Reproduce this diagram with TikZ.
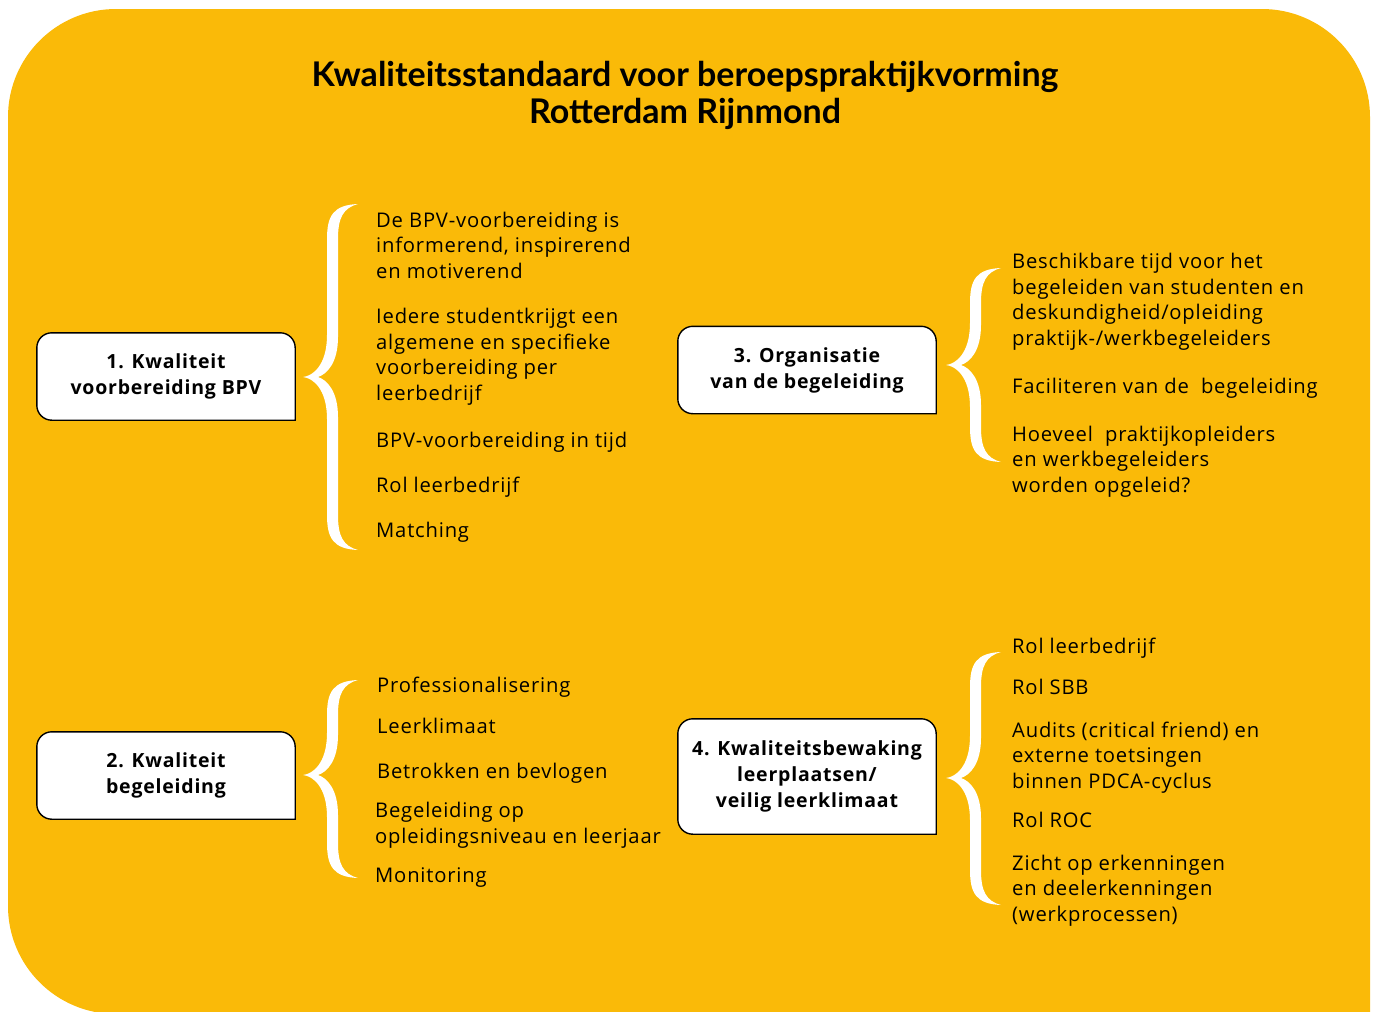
\documentclass[tikz,border=0pt]{standalone}
\usepackage{fontspec}
\setmainfont{Open Sans}[LetterSpace=4]
\newfontfamily\kopletter{Lato}
\usetikzlibrary{positioning,backgrounds}
\definecolor{bpvgeel}{RGB}{250,186,8}
\newcommand\tekstfont{\fontsize{20.2}{25.5}\selectfont}
\newcommand\kopfont{\kopletter\fontsize{34}{37}\selectfont\bfseries}
\tikzstyle{kader}=[
	rectangle,
	align=center,
	font=\fontsize{19.5}{26}\selectfont\bfseries,
	minimum width=258pt,
	minimum height=87pt,
	inner sep=0pt
]
\tikzstyle{punt}=[
	anchor=base west,
	align=left,
	font=\tekstfont,
	inner sep=0pt
]
\tikzstyle{rand}=[
	fill=white,
	draw=black,
	line width=1.4pt
]
% accolade: punt x, boven y, punt y, onder y
\newcommand\accolade[4]{%
\fill[white] ({#1+55},#2) .. controls ({#1+30},{#2+1}) and ({#1+24},{#2+12}) .. ({#1+24},{#2+35})
	-- ({#1+24},{#3-42}) .. controls ({#1+24},{#3-12}) and ({#1+10},{#3-1}) .. (#1,#3)
	.. controls ({#1+10},{#3+1}) and ({#1+24},{#3+12}) .. ({#1+24},{#3+42})
	-- ({#1+24},{#4-35}) .. controls ({#1+24},{#4-12}) and ({#1+30},{#4-1}) .. ({#1+55},#4)
	.. controls ({#1+40},{#4-4}) and ({#1+35},{#4-14}) .. ({#1+35},{#4-35})
	-- ({#1+35},{#3+40}) .. controls ({#1+35},{#3+14}) and ({#1+24},{#3+3}) .. ({#1+15},#3)
	.. controls ({#1+24},{#3-3}) and ({#1+35},{#3-14}) .. ({#1+35},{#3-40})
	-- ({#1+35},{#2+35}) .. controls ({#1+35},{#2+14}) and ({#1+40},{#2+4}) .. ({#1+55},#2) -- cycle;}
\newcommand\kaderrand[1]{%
\filldraw[rand] (#1.south) -- (#1.south east) -- (#1.east) [rounded corners=15pt]
	-- (#1.north east) -- (#1.north west) -- (#1.south west) -- cycle;}

\begin{document}
\begin{tikzpicture}[x=1pt,y=-1pt]
\useasboundingbox (0,0) rectangle (1377,1012);
\begin{scope}[on background layer]
\fill[bpvgeel] (700,1014) -- (1370,1014) -- (1370,500) [rounded corners=108pt]
	-- (1370,9) -- (8,9) -- (8,1014) -- cycle;
\end{scope}

% titel (base = laatste regel)
\node [font=\kopfont, align=center, anchor=base] (titel) at (685,123)
	{Kwaliteitsstandaard voor beroepspraktijkvorming\\Rotterdam Rijnmond};

% de vier kaders
\node [kader] (voorbereiding) at (166,376.5) {1. Kwaliteit\\voorbereiding BPV};
\node [kader] (begeleiding) at (166,775.5) {2. Kwaliteit\\begeleiding};
\node [kader] (organisatie) at (807,370) {3. Organisatie\\van de begeleiding};
\node [kader, minimum height=115pt] (bewaking) at (807,776.5) {4. Kwaliteitsbewaking\\leerplaatsen/\\veilig leerklimaat};
\begin{scope}[on background layer]
\kaderrand{voorbereiding}
\kaderrand{begeleiding}
\kaderrand{organisatie}
\kaderrand{bewaking}
\end{scope}

% accolades
\accolade{303}{204}{377}{550}
\accolade{303}{680}{775}{878}
\accolade{946}{268}{365}{462}
\accolade{946}{652}{778}{905}

% punten 1 (base = laatste regel)
\node [punt] (p1a) at (376,278) {De BPV-voorbereiding is\\informerend, inspirerend\\en motiverend};
\node [punt] (p1b) at (376,400) {Iedere studentkrijgt een\\algemene en specifieke\\voorbereiding per\\leerbedrijf};
\node [punt] (p1c) at (376,447) {BPV-voorbereiding in tijd};
\node [punt] (p1d) at (376,492) {Rol leerbedrijf};
\node [punt] (p1e) at (376,537) {Matching};

% punten 2
\node [punt] (p2a) at (377,692) {Professionalisering};
\node [punt] (p2b) at (377,733) {Leerklimaat};
\node [punt] (p2c) at (377,778) {Betrokken en bevlogen};
\node [punt] (p2d) at (375,843) {Begeleiding op\\opleidingsniveau en leerjaar};
\node [punt] (p2e) at (375,882) {Monitoring};

% punten 3
\node [punt] (p3a) at (1012,345) {Beschikbare tijd voor het\\begeleiden van studenten en\\deskundigheid/opleiding\\praktijk-/werkbegeleiders};
\node [punt] (p3b) at (1012,393) {Faciliteren van de\ \ begeleiding};
\node [punt] (p3c) at (1012,492) {Hoeveel\ \ praktijkopleiders\\en werkbegeleiders\\worden opgeleid?};

% punten 4
\node [punt] (p4a) at (1012,653) {Rol leerbedrijf};
\node [punt] (p4b) at (1012,694) {Rol SBB};
\node [punt] (p4c) at (1012,788) {Audits (critical friend) en\\externe toetsingen\\binnen PDCA-cyclus};
\node [punt] (p4d) at (1012,827) {Rol ROC};
\node [punt] (p4e) at (1012,921) {Zicht op erkenningen\\en deelerkenningen\\(werkprocessen)};
\end{tikzpicture}
\end{document}
